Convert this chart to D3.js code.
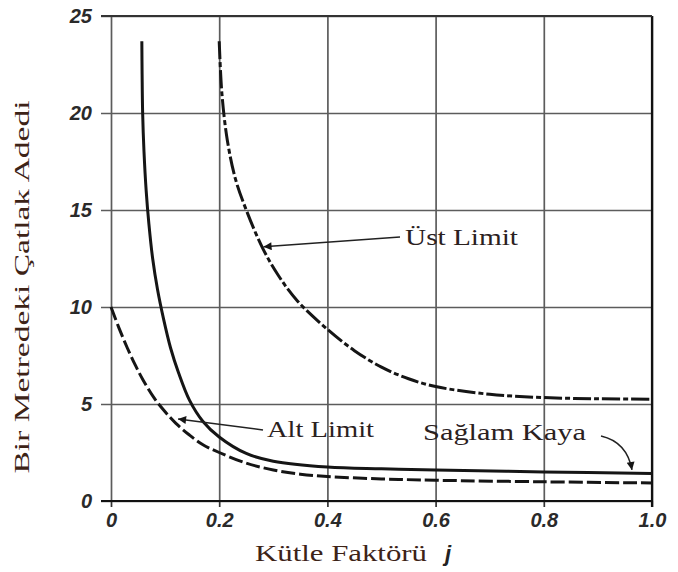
<!DOCTYPE html>
<html>
<head>
<meta charset="utf-8">
<script src="https://cdn.jsdelivr.net/npm/d3@7"></script>
<style>
  html, body { margin: 0; padding: 0; background: #fff; }
  svg { display: block; }
</style>
</head>
<body>
<div id="chart"></div>
<script>
// Crack frequency per metre against rock mass factor j
const xTicks = [0, 0.2, 0.4, 0.6, 0.8, 1.0];
const xTickLabels = ["0", "0.2", "0.4", "0.6", "0.8", "1.0"];
const yTicks = [0, 5, 10, 15, 20, 25];

// [j, cracks per metre]
const saglamKaya = [
  [0.057, 23.7], [0.0575, 22], [0.0585, 20], [0.061, 18], [0.065, 16],
  [0.07, 14.3], [0.077, 12.5], [0.086, 10.9], [0.097, 9.4], [0.11, 7.9],
  [0.125, 6.6], [0.145, 5.2], [0.17, 4.1], [0.2, 3.3], [0.25, 2.45],
  [0.3, 2.05], [0.4, 1.75], [0.5, 1.66], [0.6, 1.6], [0.8, 1.5], [1.0, 1.42]
];
const altLimit = [
  [0.0, 10], [0.015, 8.9], [0.03, 7.9], [0.045, 7.0], [0.06, 6.2],
  [0.08, 5.3], [0.1, 4.6], [0.12, 4.0], [0.145, 3.4], [0.17, 2.9],
  [0.2, 2.5], [0.25, 1.95], [0.3, 1.6], [0.35, 1.38], [0.4, 1.26],
  [0.5, 1.14], [0.6, 1.07], [0.8, 0.99], [1.0, 0.93]
];
const ustLimit = [
  [0.2, 23.7], [0.205, 21], [0.215, 18.6], [0.23, 16.6], [0.25, 15],
  [0.28, 13.05], [0.31, 11.6], [0.345, 10.3], [0.4, 8.85], [0.45, 7.75],
  [0.5, 6.9], [0.55, 6.3], [0.6, 5.9], [0.7, 5.5], [0.8, 5.33],
  [0.9, 5.27], [1.0, 5.25]
];

const W = 678, H = 572;
const margin = { top: 16, right: 26, bottom: 71, left: 111 };

const svg = d3.select("#chart").append("svg")
  .attr("width", W).attr("height", H);

const x = d3.scaleLinear().domain([0, 1]).range([margin.left, W - margin.right]);
const y = d3.scaleLinear().domain([0, 25]).range([H - margin.bottom, margin.top]);

const tickFont = "'Liberation Sans', Arial, sans-serif";
const serif = "'Liberation Serif', 'Times New Roman', serif";

// horizontal grid + y tick labels
const yAxis = svg.append("g")
  .attr("transform", `translate(${x(1)},0)`)
  .call(d3.axisLeft(y).tickValues(yTicks).tickSize(x(1) - x(0) + 10).tickPadding(9).tickFormat(d3.format("d")));
yAxis.select(".domain").remove();
yAxis.selectAll(".tick line").attr("stroke", "#5c5c5c").attr("stroke-width", 1.7);
yAxis.selectAll(".tick text")
  .attr("font-family", tickFont).attr("font-style", "italic").attr("font-weight", "bold")
  .attr("font-size", 20).attr("fill", "#2a2a2a");

// vertical grid
const xGrid = svg.append("g")
  .attr("transform", `translate(0,${y(0)})`)
  .call(d3.axisBottom(x).tickValues(xTicks).tickSize(-(y(0) - y(25))).tickFormat(""));
xGrid.select(".domain").remove();
xGrid.selectAll(".tick line").attr("stroke", "#5c5c5c").attr("stroke-width", 1.7);

// x ticks and labels
const xAxis = svg.append("g")
  .attr("transform", `translate(0,${y(0)})`)
  .call(d3.axisBottom(x).tickValues(xTicks).tickSize(6).tickPadding(6)
    .tickFormat((d, i) => xTickLabels[i]));
xAxis.select(".domain").remove();
xAxis.selectAll(".tick line").attr("stroke", "#333").attr("stroke-width", 1.7);
xAxis.selectAll(".tick text")
  .attr("font-family", tickFont).attr("font-style", "italic").attr("font-weight", "bold")
  .attr("font-size", 20).attr("fill", "#2a2a2a");

// frame: bottom and right edges are darker
svg.append("line")
  .attr("x1", x(0) - 10).attr("x2", x(1)).attr("y1", y(0)).attr("y2", y(0))
  .attr("stroke", "#111").attr("stroke-width", 2.2);
svg.append("line")
  .attr("x1", x(1)).attr("x2", x(1)).attr("y1", y(25)).attr("y2", y(0) + 6)
  .attr("stroke", "#111").attr("stroke-width", 2.2);
svg.append("line")
  .attr("x1", x(0) - 10).attr("x2", x(1)).attr("y1", y(25)).attr("y2", y(25))
  .attr("stroke", "#333").attr("stroke-width", 2);

// curves
const line = d3.line()
  .x(d => x(d[0])).y(d => y(d[1]))
  .curve(d3.curveCatmullRom.alpha(0.5));

svg.append("path").datum(saglamKaya)
  .attr("d", line).attr("fill", "none")
  .attr("stroke", "#151515").attr("stroke-width", 3);

svg.append("path").datum(altLimit)
  .attr("d", line).attr("fill", "none")
  .attr("stroke", "#151515").attr("stroke-width", 3)
  .attr("stroke-dasharray", "14,4");

svg.append("path").datum(ustLimit)
  .attr("d", line).attr("fill", "none")
  .attr("stroke", "#151515").attr("stroke-width", 3)
  .attr("stroke-dasharray", "18,3,5,3");

// arrowhead marker
svg.append("defs").append("marker")
  .attr("id", "head")
  .attr("viewBox", "0 0 10 10")
  .attr("refX", 10).attr("refY", 5)
  .attr("markerWidth", 12).attr("markerHeight", 8)
  .attr("markerUnits", "userSpaceOnUse")
  .attr("orient", "auto")
  .append("path").attr("d", "M0,0 L10,5 L0,10 Z").attr("fill", "#151515");

// annotations
const annColor = "#2b211e";

svg.append("path")
  .attr("d", `M400,237 L${x(0.282)},${y(13.1)}`)
  .attr("fill", "none").attr("stroke", "#222").attr("stroke-width", 1.5)
  .attr("marker-end", "url(#head)");
svg.append("text")
  .attr("x", 405).attr("y", 245)
  .attr("font-family", serif).attr("font-size", 24).attr("fill", annColor)
  .attr("textLength", 113).attr("lengthAdjust", "spacingAndGlyphs")
  .text("Üst Limit");

svg.append("path")
  .attr("d", `M263,430 L${x(0.124)},${y(4.23)}`)
  .attr("fill", "none").attr("stroke", "#222").attr("stroke-width", 1.5)
  .attr("marker-end", "url(#head)");
svg.append("text")
  .attr("x", 267).attr("y", 437)
  .attr("font-family", serif).attr("font-size", 24).attr("fill", annColor)
  .attr("textLength", 107).attr("lengthAdjust", "spacingAndGlyphs")
  .text("Alt Limit");

svg.append("path")
  .attr("d", `M601,436 Q627,442 ${x(0.963)},${y(1.6)}`)
  .attr("fill", "none").attr("stroke", "#222").attr("stroke-width", 1.5)
  .attr("marker-end", "url(#head)");
svg.append("text")
  .attr("x", 423).attr("y", 440)
  .attr("font-family", serif).attr("font-size", 24).attr("fill", annColor)
  .attr("textLength", 163).attr("lengthAdjust", "spacingAndGlyphs")
  .text("Sağlam Kaya");

// axis titles
const titleColor = "#3d2317";
svg.append("text")
  .attr("x", 255).attr("y", 561)
  .attr("font-family", serif).attr("font-size", 24).attr("fill", titleColor)
  .attr("textLength", 172).attr("lengthAdjust", "spacingAndGlyphs")
  .text("Kütle Faktörü");
svg.append("text")
  .attr("x", 445).attr("y", 561)
  .attr("font-family", tickFont).attr("font-style", "italic").attr("font-weight", "bold")
  .attr("font-size", 22).attr("fill", "#222")
  .text("j");

svg.append("text")
  .attr("transform", "translate(29,287) rotate(-90)")
  .attr("text-anchor", "middle")
  .attr("font-family", serif).attr("font-size", 22).attr("fill", titleColor)
  .attr("textLength", 373).attr("lengthAdjust", "spacingAndGlyphs")
  .text("Bir Metredeki Çatlak Adedi");
</script>
</body>
</html>
